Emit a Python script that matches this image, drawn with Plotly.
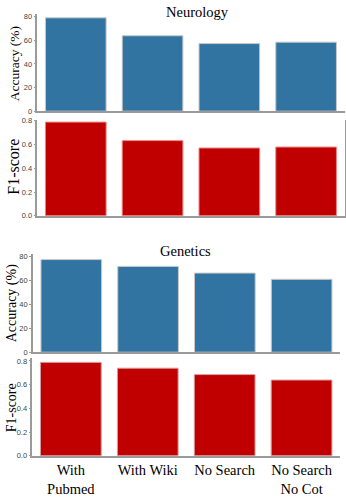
import plotly.graph_objects as go

categories = ["With<br>Pubmed", "With Wiki", "No Search", "No Search<br>No Cot"]
neuro_acc = [79.0, 63.8, 57.2, 58.4]
neuro_f1 = [0.789, 0.633, 0.571, 0.579]
gen_acc = [77.5, 71.8, 66.2, 61.0]
gen_f1 = [0.788, 0.739, 0.685, 0.639]
acc_ticks = [0, 20, 40, 60, 80]
f1_ticks = [0.0, 0.2, 0.4, 0.6, 0.8]
f1_ticklabels = ["0.0", "0.2", "0.4", "0.6", "0.8"]

W, H = 346, 497
BLUE = "#3274A1"
RED = "#C00000"
AXC = "#9a9a9a"

def ydom(top, bottom):
    return [1 - bottom / H, 1 - top / H]

panels = [
    dict(vals=neuro_acc, color=BLUE, edge="#c8c8c8", xd=[37.5 / W, 345.5 / W], yd=ydom(11, 111.3),
         rng=[0, 82.5], ticks=acc_ticks, tl=[str(t) for t in acc_ticks], mirror=False),
    dict(vals=neuro_f1, color=RED, edge="#f08080", xd=[37.5 / W, 345.5 / W], yd=ydom(120, 219),
         rng=[0, 0.81], ticks=f1_ticks, tl=f1_ticklabels, mirror=True),
    dict(vals=gen_acc, color=BLUE, edge="#c8c8c8", xd=[33 / W, 341 / W], yd=ydom(258, 359.3),
         rng=[0, 82.4], ticks=acc_ticks, tl=[str(t) for t in acc_ticks], mirror=False),
    dict(vals=gen_f1, color=RED, edge="#d8a0a0", xd=[32.5 / W, 341 / W], yd=ydom(365, 466),
         rng=[0, 0.827], ticks=f1_ticks, tl=f1_ticklabels, mirror=False),
]

fig = go.Figure()
layout = dict(width=W, height=H, margin=dict(l=0, r=0, t=0, b=0),
              paper_bgcolor="white", plot_bgcolor="white", showlegend=False,
              bargap=0.21)

for i, p in enumerate(panels, start=1):
    xa = "x" if i == 1 else f"x{i}"
    ya = "y" if i == 1 else f"y{i}"
    fig.add_trace(go.Bar(x=list(range(len(categories))), y=p["vals"], xaxis=xa, yaxis=ya,
                         marker=dict(color=p["color"], line=dict(color=p["edge"], width=1))))
    layout["xaxis" if i == 1 else f"xaxis{i}"] = dict(
        domain=p["xd"], anchor=ya, range=[-0.5, 3.5], showline=True, linecolor=AXC, linewidth=1.5,
        showgrid=False, zeroline=False, ticks="", tickmode="array",
        tickvals=list(range(len(categories))),
        ticktext=categories if i == 4 else [""] * 4,
        showticklabels=(i == 4),
        tickfont=dict(family="Liberation Serif", size=14.5, color="black"))
    layout["yaxis" if i == 1 else f"yaxis{i}"] = dict(
        domain=p["yd"], anchor=xa, range=p["rng"], showline=True, linecolor=AXC, linewidth=1.5,
        mirror=p["mirror"], showgrid=False, zeroline=False, ticks="outside", ticklen=2,
        tickcolor=AXC, tickwidth=1, tickmode="array", tickvals=p["ticks"], ticktext=p["tl"],
        tickfont=dict(family="Liberation Sans", size=7.5, color="#444"))

fig.update_layout(**layout)

annots = [
    ("Neurology", 198, 9, 0, 14.5),
    ("Genetics", 186, 255, 0, 14.5),
    ("Accuracy (%)", 14, 62, -90, 13.5),
    ("F1-score", 13.5, 168, -90, 16),
    ("Accuracy (%)", 12, 309, -90, 14),
    ("F1-score", 11, 416, -90, 14),
]
for text, x, y, ang, size in annots:
    fig.add_annotation(text=text, x=x / W, y=1 - y / H, xref="paper", yref="paper",
                       xanchor="center", yanchor="middle", showarrow=False, textangle=ang,
                       font=dict(family="Liberation Serif", size=size, color="black"))

fig.write_html("out.html")
